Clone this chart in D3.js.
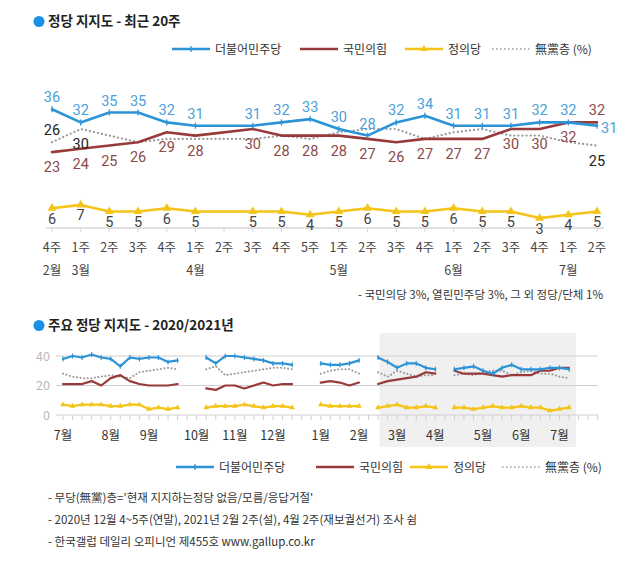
<!DOCTYPE html>
<html><head><meta charset="utf-8">
<script src="https://cdn.jsdelivr.net/npm/d3@7"></script>
<style>
html,body{margin:0;padding:0;background:#fff;}
svg{display:block;font-family:"Noto Sans CJK KR","Noto Sans",sans-serif;}
</style></head>
<body><svg id="c" width="640" height="565"></svg>
<script>
// ---------- DATA: top chart (recent 20 weeks) ----------
const weeksTop = ["4주","1주","2주","3주","4주","1주","2주","3주","4주","5주","1주","2주","3주","4주","1주","2주","3주","4주","1주","2주"];
const monthTopIdx = [0,1,5,10,14,18];
const monthTopLabel = ["2월","3월","4월","5월","6월","7월"];
const minjuTop = [36,32,35,35,32,31,null,31,32,33,30,28,32,34,31,31,31,32,32,31];
const ppTop    = [23,24,25,26,29,28,null,30,28,28,28,27,26,27,27,27,30,30,32,32];
const justTop  = [6,7,5,5,6,5,null,5,5,4,5,6,5,5,6,5,5,3,4,5];
const indepTop = [26,30,28,26,27,27,null,27,28,27,29,30,30,27,29,30,28,28,26,25];

// ---------- DATA: bottom chart (2020/2021 weekly), weeks before the recent 20 ----------
const minjuEarly = [38,40,39,41,39,38,33,39,38,39,39,36,37,null,null,39,35,40,40,39,38,37,35,35,34,null,null,35,34,34,35,37,null,39];
const ppEarly    = [21,21,21,23,20,25,27,23,21,20,20,20,21,null,null,18,17,20,20,18,20,22,20,21,21,null,null,22,23,22,20,22,null,21];
const justEarly  = [7,6,7,7,7,6,6,7,7,4,5,4,5,null,null,5,6,6,6,7,6,5,6,6,5,null,null,7,6,6,6,6,null,5];
const indepEarly = [28,26,25,25,26,27,26,25,29,30,31,32,31,null,null,31,33,27,28,29,30,31,32,32,31,null,null,28,30,31,31,28,null,29];
const monthBotIdx = [0,5,9,14,18,22,27,31,35,39,44,48,52];
const monthBotLabel = ["7월","8월","9월","10월","11월","12월","1월","2월","3월","4월","5월","6월","7월"];
const yTicksBot = [0,20,40];
const footnotes = [
  "- 무당(無黨)층='현재 지지하는정당 없음/모름/응답거절'",
  "- 2020년 12월 4~5주(연말), 2021년 2월 2주(설), 4월 2주(재보궐선거) 조사 쉼",
  "- 한국갤럽 데일리 오피니언 제455호 www.gallup.co.kr"
];
const otherNote = "- 국민의당 3%, 열린민주당 3%, 그 외 정당/단체 1%";
const legendNames = ["더불어민주당","국민의힘","정의당","無黨층 (%)"];

// ---------- STYLE ----------
const C = {blue:"#2b93d6", red:"#983a3a", yellow:"#f5c418", gray:"#9a9a9a",
  blueT:"#4c9fd9", redT:"#8c4a4a", grayT:"#222", yellowT:"#444"};
const svg = d3.select("#c");

// ---------- TOP CHART ----------
function title(y, text){
  svg.append("circle").attr("cx",39).attr("cy",y-4.5).attr("r",5.5).attr("fill","#1a8fe6");
  svg.append("text").attr("x",48).attr("y",y).attr("font-size",13.5).attr("font-weight",700)
     .attr("fill","#222").text(text);
}
title(26, "정당 지지도 - 최근 20주");

function legend(y, xs){
  const g = svg.append("g").attr("font-size",12).attr("fill","#333");
  const cols=[C.blue,C.red,C.yellow,C.gray];
  xs.forEach((x,k)=>{
    const w = 38;
    const ln = g.append("line").attr("x1",x).attr("x2",x+w).attr("y1",y).attr("y2",y)
      .attr("stroke",cols[k]).attr("stroke-width",k==3?1.5:2.5);
    if(k==3) ln.attr("stroke-dasharray","1.5,2.5");
    if(k==0) g.append("line").attr("x1",x+w/2).attr("x2",x+w/2).attr("y1",y-3).attr("y2",y+3).attr("stroke",cols[0]).attr("stroke-width",1.3);
    if(k==2) g.append("path").attr("d",d3.symbol(d3.symbolTriangle,22)()).attr("transform",`translate(${x+w/2},${y})`).attr("fill",cols[2]);
    g.append("text").attr("x",x+w+5).attr("y",y+4.5).attr("fill","#333").text(legendNames[k]);
  });
}
legend(49, [172,300,405,492]);

const xT = d3.scalePoint().domain(d3.range(weeksTop.length)).range([52,597]);
const yT = d3.scaleLinear().domain([0,40]).range([228,96]);

// baseline + ticks
svg.append("line").attr("x1",46).attr("x2",604).attr("y1",yT(0)).attr("y2",yT(0)).attr("stroke","#d6d6d6").attr("stroke-width",1.3);
svg.append("g").selectAll("line").data(d3.range(weeksTop.length)).join("line")
  .attr("x1",i=>xT(i)).attr("x2",i=>xT(i)).attr("y1",yT(0)).attr("y2",yT(0)+4).attr("stroke","#d6d6d6");
svg.append("g").attr("font-size",12.5).attr("fill","#444").attr("text-anchor","middle")
  .selectAll("text").data(weeksTop).join("text").attr("x",(d,i)=>xT(i)).attr("y",252).text(d=>d);
svg.append("g").attr("font-size",12.5).attr("fill","#444").attr("text-anchor","middle")
  .selectAll("text").data(monthTopIdx).join("text").attr("x",i=>xT(i)).attr("y",275).text((d,k)=>monthTopLabel[k]);

function pts(arr, xs, ys){ return arr.map((v,i)=>({i,v})).filter(d=>d.v!=null).map(d=>({i:d.i,v:d.v,x:xs(d.i),y:ys(d.v)})); }
const lineXY = d3.line().x(d=>d.x).y(d=>d.y);

function drawSeries(arr, color, opts, xs, ys, sw){
  const p = pts(arr, xs, ys);
  const path = svg.append("path").attr("d",lineXY(p)).attr("fill","none").attr("stroke",color)
     .attr("stroke-width",opts.dotted?1.6:sw).attr("stroke-linejoin","round").attr("stroke-linecap","round");
  if(opts.dotted) path.attr("stroke-dasharray","0.1,4").attr("stroke-width",2.2);
  if(opts.tick) svg.append("g").selectAll("line").data(p).join("line")
      .attr("x1",d=>d.x).attr("x2",d=>d.x).attr("y1",d=>d.y-opts.tick).attr("y2",d=>d.y+opts.tick)
      .attr("stroke",color).attr("stroke-width",1.3);
  if(opts.tri) svg.append("g").selectAll("path").data(p).join("path")
      .attr("d",d3.symbol(d3.symbolTriangle,opts.tri)()).attr("transform",d=>`translate(${d.x},${d.y})`).attr("fill",color);
  return p;
}
function labels(p, color, pos, below){
  const bl = below||20;
  svg.append("g").attr("font-family","Roboto, 'DejaVu Sans', sans-serif").attr("font-size",14.5).attr("fill",color)
    .selectAll("text").data(p.filter(d=>pos(d)!=null)).join("text")
    .attr("x",d=>{const s=pos(d); return s=="right"?d.x+4:d.x;})
    .attr("text-anchor",d=>pos(d)=="right"?"start":"middle")
    .attr("y",d=>{const s=pos(d); return d.y + (s=="above"?-7:s=="below"?bl:7);})
    .text(d=>d.v);
}
const last = weeksTop.length-1;
const pI = drawSeries(indepTop, C.gray, {dotted:true}, xT, yT);
const pP = drawSeries(ppTop, C.red, {}, xT, yT, 2.6);
const pM = drawSeries(minjuTop, C.blue, {tick:3}, xT, yT, 2.6);
const pJ = drawSeries(justTop, C.yellow, {tri:34}, xT, yT, 2.6);
labels(pM, C.blueT, d=>d.i==last?"right":"above");
labels(pP, C.redT, d=>d.i==last?"above":"below");
labels(pI, C.grayT, d=>d.i==0?"above":(d.i==1||d.i==last)?"below":null);
labels(pJ, C.yellowT, d=>"below", 15.5);

svg.append("text").attr("x",603).attr("y",299).attr("text-anchor","end").attr("font-size",11.5).attr("fill","#333").text(otherNote);

// ---------- BOTTOM CHART ----------
title(330, "주요 정당 지지도 - 2020/2021년");
const minjuAll = minjuEarly.concat(minjuTop), ppAll = ppEarly.concat(ppTop),
      justAll = justEarly.concat(justTop), indepAll = indepEarly.concat(indepTop);
const nB = minjuAll.length;
const xB = d3.scaleLinear().domain([0,nB-1]).range([63,569]);
const yB = d3.scaleLinear().domain([0,40]).range([415,356]);

svg.append("rect").attr("x",xB(nB-20)-8).attr("width",xB(nB-1)-xB(nB-20)+15).attr("y",333).attr("height",114).attr("fill","#f0f0f0");
svg.append("g").selectAll("line").data(yTicksBot).join("line")
  .attr("x1",56).attr("x2",598).attr("y1",d=>yB(d)).attr("y2",d=>yB(d))
  .attr("stroke",d=>d==0?"#d0d0d0":"#cfcfcf").attr("stroke-width",1);
svg.append("g").selectAll("line").data(d3.range(57)).join("line")
  .attr("x1",i=>xB(i)).attr("x2",i=>xB(i)).attr("y1",yB(0)).attr("y2",yB(0)+5).attr("stroke","#cfcfcf");
svg.append("g").attr("font-size",12.5).attr("fill","#b8b8b8").attr("text-anchor","end")
  .selectAll("text").data(yTicksBot).join("text").attr("x",50).attr("y",d=>yB(d)+4.5).text(d=>d);
svg.append("g").attr("font-size",12.5).attr("fill","#333").attr("text-anchor","middle")
  .selectAll("text").data(monthBotIdx).join("text").attr("x",i=>xB(i)).attr("y",440).text((d,k)=>monthBotLabel[k]);

const lineB = d3.line().defined(d=>d.v!=null).x(d=>xB(d.i)).y(d=>yB(d.v));
function drawB(arr,color,opts){
  const data = arr.map((v,i)=>({i,v}));
  const path = svg.append("path").attr("d",lineB(data)).attr("fill","none").attr("stroke",color)
    .attr("stroke-width",2.2).attr("stroke-linejoin","round").attr("stroke-linecap","round");
  if(opts.dotted) path.attr("stroke-dasharray","0.1,3.5").attr("stroke-width",2);
  const p = data.filter(d=>d.v!=null);
  if(opts.tick) svg.append("g").selectAll("line").data(p).join("line")
      .attr("x1",d=>xB(d.i)).attr("x2",d=>xB(d.i)).attr("y1",d=>yB(d.v)-2.5).attr("y2",d=>yB(d.v)+2.5)
      .attr("stroke",color).attr("stroke-width",1.1);
  if(opts.tri) svg.append("g").selectAll("path").data(p).join("path")
      .attr("d",d3.symbol(d3.symbolTriangle,opts.tri)()).attr("transform",d=>`translate(${xB(d.i)},${yB(d.v)})`).attr("fill",color);
}
drawB(indepAll, C.gray, {dotted:true});
drawB(ppAll, C.red, {});
drawB(minjuAll, C.blue, {tick:true});
drawB(justAll, C.yellow, {tri:14});

legend(467, [176,316,410,502]);

svg.append("g").attr("font-size",11.5).attr("fill","#333")
  .selectAll("text").data(footnotes).join("text").attr("x",48).attr("y",(d,k)=>502+k*22).text(d=>d);
</script>
</body></html>
